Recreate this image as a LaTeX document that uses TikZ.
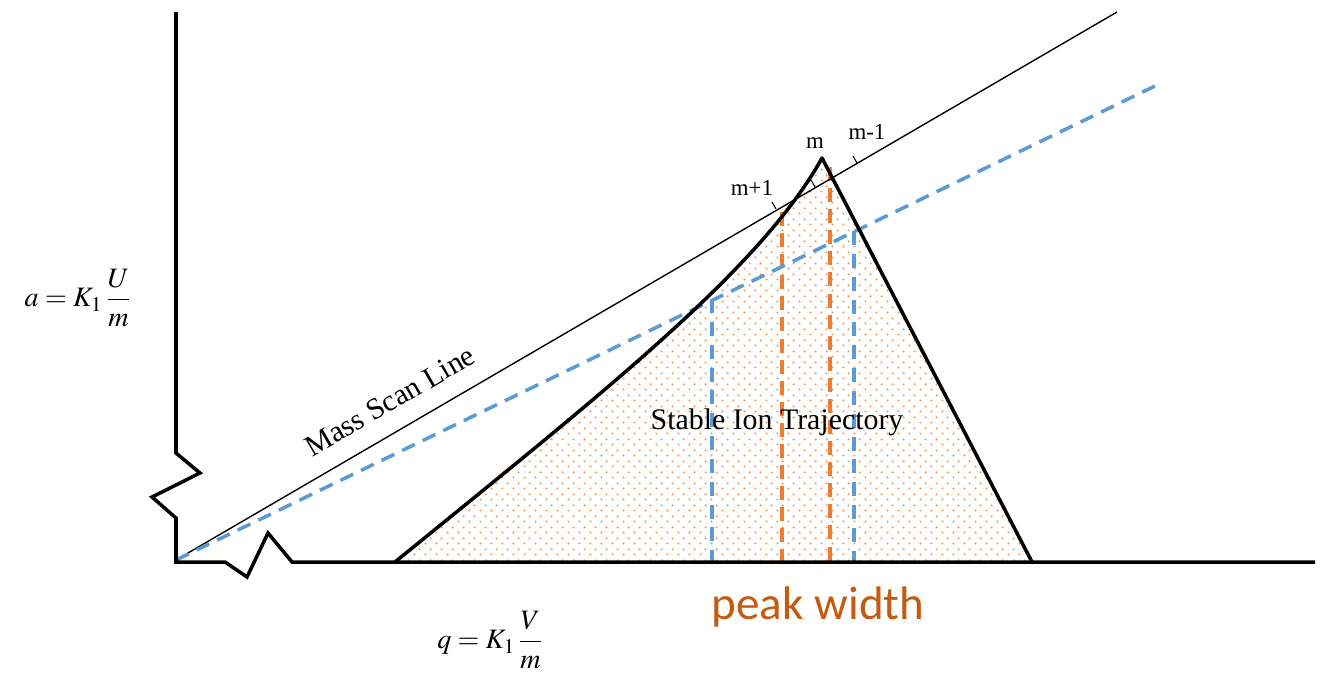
\documentclass[tikz,border=0pt]{standalone}
\usepackage{mathptmx}
\usepackage{fontspec}
\setmainfont{Liberation Serif}
\newfontfamily\calibri{Carlito}
\usetikzlibrary{patterns.meta}

\definecolor{scanblue}{HTML}{5B9BD5}
\definecolor{peakorange}{HTML}{ED7D31}
\definecolor{dotorange}{HTML}{F29A55}
\definecolor{labelorange}{HTML}{C55A11}

\tikzdeclarepattern{
  name=stipple, type=uncolored,
  bounding box={(0pt,0pt) and (6pt,6pt)},
  tile size={(6pt,6pt)},
  code={
    \fill (1.5pt,1.5pt) circle (0.7pt);
    \fill (4.5pt,4.5pt) circle (0.7pt);
  }
}

\begin{document}
\begin{tikzpicture}[x=0.02cm, y=-0.02cm,
    axis/.style={line width=2pt, line join=miter},
    edgeline/.style={line width=2pt, line join=round},
    scanline/.style={line width=0.8pt},
    bluedash/.style={scanblue, line width=2pt, dash pattern=on 8pt off 5pt},
    orangedash/.style={peakorange, line width=2pt, dash pattern=on 8pt off 4pt},
    tag/.style={font=\fontsize{13}{15}\selectfont, inner sep=1pt},
    serifnote/.style={font=\fontsize{17}{20}\selectfont, inner sep=1pt},
    formula/.style={font=\fontsize{16}{19}\selectfont, inner sep=1pt}
]
    \useasboundingbox (0,0) rectangle (1324,683);

    % Key points of the stability region
    \coordinate (origin) at (176,560);
    \coordinate (baseleft) at (395,562);
    \coordinate (apex) at (822,158);
    \coordinate (baseright) at (1032,562);
    \coordinate (scanend) at (1117,12);
    \coordinate (blueend) at (1155,86);

    % Stable region with stippled fill
    \fill[pattern=stipple, pattern color=dotorange]
        (baseleft) .. controls (600,395) and (760,270) .. (apex)
        -- (baseright) -- cycle;

    % Peak width markers
    \draw[bluedash] (712,299) -- (712,562);
    \draw[bluedash] (854,231) -- (854,562);
    \draw[orangedash] (782,212) -- (782,562);
    \draw[orangedash] (830,167) -- (830,562);

    % Scan lines
    \draw[scanline] (origin) -- (scanend);
    \draw[bluedash] (origin) -- (blueend);

    % Ticks on mass scan line
    \draw[line width=0.6pt] (776,209) -- (772,202);
    \draw[line width=0.6pt] (815,187) -- (811,180);
    \draw[line width=0.6pt] (857,163) -- (853,156);

    % Triangle edges
    \draw[edgeline] (baseleft) .. controls (600,395) and (760,270) .. (apex)
        -- (baseright);

    % Axes with break marks
    \draw[axis] (176,12) -- (176,453) -- (200,473) -- (152,497)
        -- (176,518) -- (176,562) -- (225,562) -- (247,577)
        -- (268,533) -- (292,562) -- (1315,562);

    % Labels
    \node[tag] (mlab) at (815,143) {m};
    \node[tag] (mminus) at (867,132) {m-1};
    \node[tag] (mplus) at (752,188) {m+1};
    \node[serifnote, rotate=30.1] (scanlab) at (390,401) {Mass Scan Line};
    \node[serifnote] (stablelab) at (777,422) {Stable Ion Trajectory};
    \node[font=\calibri\fontsize{26.8}{30}\selectfont, text=labelorange,
          inner sep=0pt] (peaklab) at (818,607) {peak width};
    \node[formula] (alab) at (78,298) {$a = K_{1}\,\displaystyle\frac{U}{m}$};
    \node[formula] (qlab) at (490,640) {$q = K_{1}\,\displaystyle\frac{V}{m}$};
\end{tikzpicture}
\end{document}
